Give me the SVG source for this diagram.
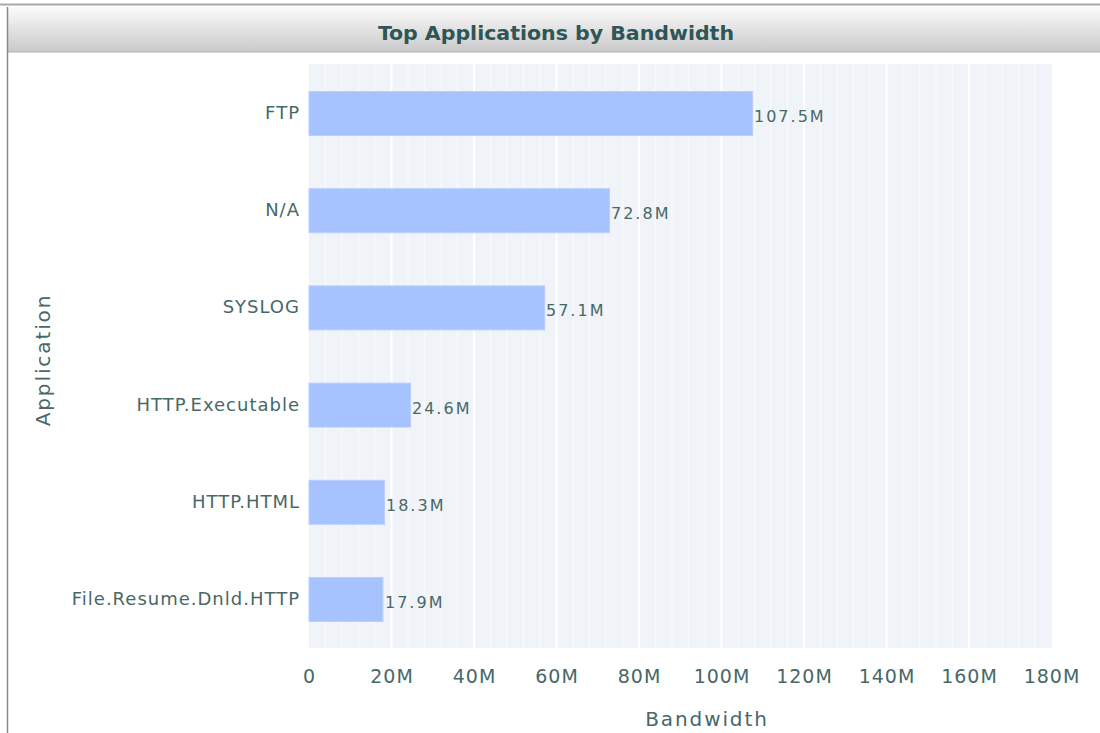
<svg xmlns="http://www.w3.org/2000/svg" width="1100" height="733" viewBox="0 0 1100 733">
<defs>
<linearGradient id="hdr" x1="0" y1="0" x2="0" y2="1">
<stop offset="0" stop-color="#fbfbfb"/>
<stop offset="1" stop-color="#c9c9c9"/>
</linearGradient>
<style>
.cat{font-family:"DejaVu Sans",sans-serif;font-size:18px;fill:#476868;text-anchor:end;letter-spacing:1px}
.val{font-family:"DejaVu Sans",sans-serif;font-size:16px;fill:#476868;letter-spacing:2px}
.tick{font-family:"DejaVu Sans",sans-serif;font-size:19px;fill:#476868;text-anchor:middle;letter-spacing:1px}
.axt{font-family:"DejaVu Sans",sans-serif;font-size:20px;fill:#476868;text-anchor:middle;letter-spacing:1.9px}
.bar{fill:#a6c2ff;stroke:#b9cfff;stroke-width:1}
.minor{stroke:#f7f9fc;stroke-width:1.5}
.major{stroke:#ffffff;stroke-width:2}
</style>
</defs>
<rect x="0" y="0" width="1100" height="733" fill="#ffffff"/>
<g id="frame">
<line x1="0" y1="4.5" x2="1100" y2="4.5" stroke="#a8a8a8" stroke-width="2"/>
<rect x="8" y="7" width="1092" height="45" fill="url(#hdr)"/>
<line x1="8" y1="52" x2="1100" y2="52" stroke="#b5b5b5" stroke-width="1"/>
<line x1="7.5" y1="7" x2="7.5" y2="733" stroke="#8a8a8a" stroke-width="1.5"/>
<text x="556" y="40" font-family="DejaVu Sans Condensed, DejaVu Sans, sans-serif" font-weight="bold" font-size="20" fill="#2f5656" text-anchor="middle" textLength="356" lengthAdjust="spacingAndGlyphs">Top Applications by Bandwidth</text>
</g>
<g id="plot">
<rect x="309" y="64" width="743" height="584" fill="#f0f3f8"/>
<g id="grid">
<line class="minor" x1="325.5" y1="64" x2="325.5" y2="648"/>
<line class="minor" x1="342" y1="64" x2="342" y2="648"/>
<line class="minor" x1="358.5" y1="64" x2="358.5" y2="648"/>
<line class="minor" x1="375" y1="64" x2="375" y2="648"/>
<line class="major" x1="391.5" y1="64" x2="391.5" y2="648"/>
<line class="minor" x1="408" y1="64" x2="408" y2="648"/>
<line class="minor" x1="424.5" y1="64" x2="424.5" y2="648"/>
<line class="minor" x1="441" y1="64" x2="441" y2="648"/>
<line class="minor" x1="457.5" y1="64" x2="457.5" y2="648"/>
<line class="major" x1="474" y1="64" x2="474" y2="648"/>
<line class="minor" x1="490.5" y1="64" x2="490.5" y2="648"/>
<line class="minor" x1="507" y1="64" x2="507" y2="648"/>
<line class="minor" x1="523.5" y1="64" x2="523.5" y2="648"/>
<line class="minor" x1="540" y1="64" x2="540" y2="648"/>
<line class="major" x1="556.5" y1="64" x2="556.5" y2="648"/>
<line class="minor" x1="573" y1="64" x2="573" y2="648"/>
<line class="minor" x1="589.5" y1="64" x2="589.5" y2="648"/>
<line class="minor" x1="606" y1="64" x2="606" y2="648"/>
<line class="minor" x1="622.5" y1="64" x2="622.5" y2="648"/>
<line class="major" x1="639" y1="64" x2="639" y2="648"/>
<line class="minor" x1="655.5" y1="64" x2="655.5" y2="648"/>
<line class="minor" x1="672" y1="64" x2="672" y2="648"/>
<line class="minor" x1="688.5" y1="64" x2="688.5" y2="648"/>
<line class="minor" x1="705" y1="64" x2="705" y2="648"/>
<line class="major" x1="721.5" y1="64" x2="721.5" y2="648"/>
<line class="minor" x1="738" y1="64" x2="738" y2="648"/>
<line class="minor" x1="754.5" y1="64" x2="754.5" y2="648"/>
<line class="minor" x1="771" y1="64" x2="771" y2="648"/>
<line class="minor" x1="787.5" y1="64" x2="787.5" y2="648"/>
<line class="major" x1="804" y1="64" x2="804" y2="648"/>
<line class="minor" x1="820.5" y1="64" x2="820.5" y2="648"/>
<line class="minor" x1="837" y1="64" x2="837" y2="648"/>
<line class="minor" x1="853.5" y1="64" x2="853.5" y2="648"/>
<line class="minor" x1="870" y1="64" x2="870" y2="648"/>
<line class="major" x1="886.5" y1="64" x2="886.5" y2="648"/>
<line class="minor" x1="903" y1="64" x2="903" y2="648"/>
<line class="minor" x1="919.5" y1="64" x2="919.5" y2="648"/>
<line class="minor" x1="936" y1="64" x2="936" y2="648"/>
<line class="minor" x1="952.5" y1="64" x2="952.5" y2="648"/>
<line class="major" x1="969" y1="64" x2="969" y2="648"/>
<line class="minor" x1="985.5" y1="64" x2="985.5" y2="648"/>
<line class="minor" x1="1002" y1="64" x2="1002" y2="648"/>
<line class="minor" x1="1018.5" y1="64" x2="1018.5" y2="648"/>
<line class="minor" x1="1035" y1="64" x2="1035" y2="648"/>
</g>
</g>
<g id="bar-ftp">
<rect class="bar" x="309" y="91.5" width="443.7" height="44"/>
<text class="cat" x="300" y="119">FTP</text>
<text class="val" x="754" y="122">107.5M</text>
</g>
<g id="bar-na">
<rect class="bar" x="309" y="188.7" width="300.5" height="44"/>
<text class="cat" x="300" y="216.2">N/A</text>
<text class="val" x="611" y="219.2">72.8M</text>
</g>
<g id="bar-syslog">
<rect class="bar" x="309" y="285.9" width="235.7" height="44"/>
<text class="cat" x="300" y="313.4">SYSLOG</text>
<text class="val" x="546" y="316.4">57.1M</text>
</g>
<g id="bar-http-exec">
<rect class="bar" x="309" y="383.1" width="101.5" height="44"/>
<text class="cat" x="300" y="410.6">HTTP.Executable</text>
<text class="val" x="412" y="413.6">24.6M</text>
</g>
<g id="bar-http-html">
<rect class="bar" x="309" y="480.3" width="75.5" height="44"/>
<text class="cat" x="300" y="507.8">HTTP.HTML</text>
<text class="val" x="386" y="510.8">18.3M</text>
</g>
<g id="bar-file-resume">
<rect class="bar" x="309" y="577.5" width="73.9" height="44"/>
<text class="cat" x="300" y="605">File.Resume.Dnld.HTTP</text>
<text class="val" x="385" y="608">17.9M</text>
</g>
<g id="x-axis">
<text class="tick" x="309.5" y="683">0</text>
<text class="tick" x="392" y="683">20M</text>
<text class="tick" x="474.5" y="683">40M</text>
<text class="tick" x="557" y="683">60M</text>
<text class="tick" x="639.5" y="683">80M</text>
<text class="tick" x="722" y="683">100M</text>
<text class="tick" x="804.5" y="683">120M</text>
<text class="tick" x="887" y="683">140M</text>
<text class="tick" x="969.5" y="683">160M</text>
<text class="tick" x="1052" y="683">180M</text>
<text class="axt" x="707" y="726">Bandwidth</text>
</g>
<g id="y-axis">
<text class="axt" transform="translate(50,360) rotate(-90)" x="0" y="0">Application</text>
</g>
</svg>
